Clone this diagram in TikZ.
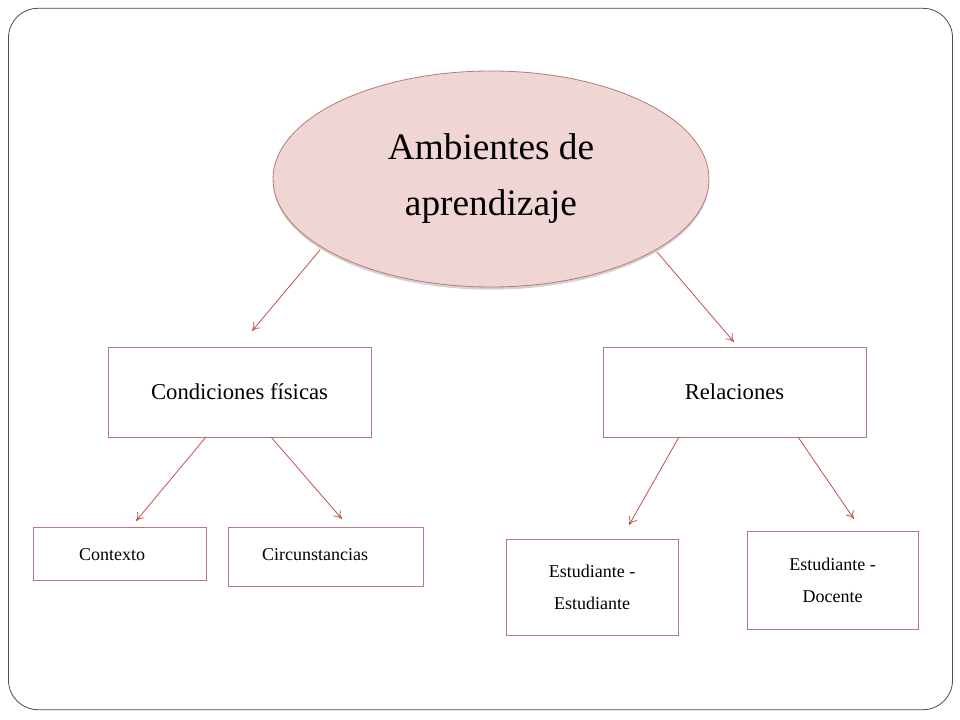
\documentclass[tikz,border=0pt]{standalone}
\usepackage{fontspec}
\setmainfont{Liberation Serif}
\usetikzlibrary{shadows,shapes.geometric,arrows.meta}
\definecolor{edge}{HTML}{C0504D}
\definecolor{pinkf}{HTML}{EFD6D4}
\definecolor{bord}{HTML}{B87A72}
\tikzset{
  px/.style={x=0.75pt,y=-0.75pt},
  box/.style={draw=bord,line width=0.5pt,fill=white},
  arr/.style={draw=edge,line width=0.6pt,-{To[length=6pt,width=7pt]}},
  lab/.style={font=\fontsize{13.5}{24}\selectfont,align=center},
}
\begin{document}
\begin{tikzpicture}[px]
\useasboundingbox (0,0) rectangle (960,720);
\node[draw=black!70,line width=0.6pt,rounded corners=22pt,minimum width=708pt,minimum height=526pt,inner sep=0pt] (frame) at (480.5,359) {};
\node[draw=bord,line width=0.6pt,ellipse,fill=pinkf,minimum width=327pt,minimum height=162pt,inner sep=0pt,drop shadow={shadow xshift=0pt,shadow yshift=-2pt,opacity=0.35},align=center,font=\fontsize{28}{42}\selectfont] (top) at (491,179) {Ambientes de\\aprendizaje};
\node[box,minimum width=197pt,minimum height=67.5pt,inner sep=0pt,font=\fontsize{17}{20}\selectfont] (cf) at (239.5,392) {Condiciones físicas};
\node[box,minimum width=197pt,minimum height=67.5pt,inner sep=0pt,font=\fontsize{17}{20}\selectfont] (rel) at (734.5,392) {Relaciones};
\node[box,minimum width=130pt,minimum height=40pt,inner sep=0pt] (ctx) at (119.5,553.5) {};
\node[lab] (ctxl) at (112,555) {Contexto};
\node[box,minimum width=146pt,minimum height=44pt,inner sep=0pt] (cir) at (325.5,556.5) {};
\node[lab] (cirl) at (315,555) {Circunstancias};
\node[box,minimum width=129pt,minimum height=72pt,inner sep=0pt,lab] (ee) at (592,587) {Estudiante -\\Estudiante};
\node[box,minimum width=128pt,minimum height=73.5pt,inner sep=0pt,lab] (ed) at (832.5,580) {Estudiante -\\Docente};
\coordinate (a1s) at (320,250); \coordinate (a1e) at (252,331);
\coordinate (a2s) at (657,252); \coordinate (a2e) at (734,342);
\coordinate (a3s) at (206,437); \coordinate (a3e) at (136,521);
\coordinate (a4s) at (271,437); \coordinate (a4e) at (342,519);
\coordinate (a5s) at (679,437); \coordinate (a5e) at (629,525);
\coordinate (a6s) at (798,437); \coordinate (a6e) at (854,519);
\draw[arr] (a1s) -- (a1e);
\draw[arr] (a2s) -- (a2e);
\draw[arr] (a3s) -- (a3e);
\draw[arr] (a4s) -- (a4e);
\draw[arr] (a5s) -- (a5e);
\draw[arr] (a6s) -- (a6e);
\end{tikzpicture}
\end{document}
